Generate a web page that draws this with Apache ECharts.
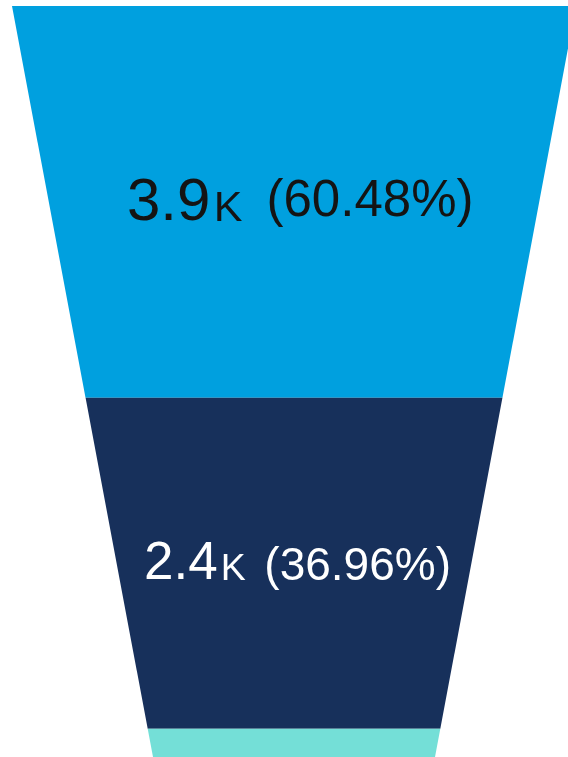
<!DOCTYPE html>
<html>
<head>
<meta charset="utf-8">
<script src="https://cdn.jsdelivr.net/npm/echarts@6/dist/echarts.min.js"></script>
<style>
html, body { margin: 0; padding: 0; background: #ffffff; }
#chart { width: 568px; height: 757px; }
</style>
</head>
<body>
<div id="chart"></div>
<script>
// ---- data ----
const stages = ['Stage 1', 'Stage 2', 'Stage 3'];
const values = [3901, 2384, 165];

// ---- styles ----
const sliceColors = ['#00A0DF', '#17305B', '#74DFD7'];
const labelColors = ['#141414', '#ffffff', '#141414'];
const labelShow = [true, true, false];
const valueFont = [60, 53, 0];
const unitFont = [43, 37.5, 0];
const pctFont = [51, 46, 0];
const unitPadL = [3.5, 3.1, 0];
const pctGap = [24, 18.5, 0];
const pctRaise = [5, 0, 0];
const labelDx = [6.2, 3.5, 0];
const labelDy = [1.5, 1.5, 0];
const FONT = "'Liberation Sans', Arial, sans-serif";
const MID_RATIO = 0.3465;           // canvas 'middle' baseline above alphabetic, in em
const NECK = 0.5;                   // bottom width / top width of funnel outline

// layout of the funnel outline (pixels)
const GRID_LEFT = 12, TOP_HALF_PX = 282, CANVAS_W = 568;

const total = values.reduce((a, b) => a + b, 0);
const kk = (1 - NECK) / 2;
const fullArea = 1 - kk;
// slice area proportional to value: depth t where cumulative area fraction = f
function depthAt(f) {
  const A = f * fullArea;
  return (1 - Math.sqrt(Math.max(0, 1 - 4 * kk * A))) / (2 * kk);
}
function halfWidth(t) { return 1 - 2 * kk * t; }

const seriesData = [];
let cum = 0;
values.forEach((v, i) => {
  const t0 = depthAt(cum / total);
  cum += v;
  const t1 = depthAt(cum / total);
  seriesData.push({ name: stages[i], value: [i, t0, t1, v] });
});

function renderItem(params, api) {
  const i = api.value(0);
  const t0 = api.value(1), t1 = api.value(2), v = api.value(3);
  const h0 = halfWidth(t0), h1 = halfWidth(t1);
  const pts = [
    api.coord([-h0, t0]), api.coord([h0, t0]),
    api.coord([h1, t1]), api.coord([-h1, t1])
  ];
  const children = [{
    type: 'polygon',
    shape: { points: pts },
    style: { fill: sliceColors[i], stroke: null }
  }];
  if (labelShow[i]) {
    const mid = api.coord([0, (t0 + t1) / 2]);
    const col = labelColors[i];
    const fa = valueFont[i], fk = unitFont[i], fb = pctFont[i];
    const valTxt = (v / 1000).toFixed(1);
    const pctTxt = '(' + (v / total * 100).toFixed(2) + '%)';
    // shift (down, px) so a token's baseline meets the value's baseline
    const dK = MID_RATIO * (fa - fk);
    const dB = MID_RATIO * (fa - fb) - pctRaise[i];
    children.push({
      type: 'text',
      x: mid[0] + labelDx[i],
      y: mid[1] + labelDy[i],
      style: {
        text: '{a|' + valTxt + '}{k|K}{b|' + pctTxt + '}',
        align: 'center',
        verticalAlign: 'middle',
        fill: col,
        rich: {
          a: { fontFamily: FONT, fontSize: fa, lineHeight: fa, fill: col, verticalAlign: 'middle' },
          k: { fontFamily: FONT, fontSize: fk, lineHeight: 10, fill: col, verticalAlign: 'middle',
               padding: [Math.max(0, 2 * dK), 0, Math.max(0, -2 * dK), unitPadL[i]] },
          b: { fontFamily: FONT, fontSize: fb, lineHeight: 10, fill: col, verticalAlign: 'middle',
               padding: [Math.max(0, 2 * dB), 0, Math.max(0, -2 * dB), pctGap[i]] }
        }
      }
    });
  }
  return { type: 'group', children: children };
}

const chart = echarts.init(document.getElementById('chart'), null, { renderer: 'canvas' });
chart.setOption({
  animation: false,
  backgroundColor: '#ffffff',
  grid: { left: GRID_LEFT, right: 0, top: 6, bottom: 0 },
  xAxis: { type: 'value', min: -1, max: (CANVAS_W - GRID_LEFT) / TOP_HALF_PX - 1, show: false },
  yAxis: { type: 'value', min: 0, max: 1, inverse: true, show: false },
  series: [{
    type: 'custom',
    renderItem: renderItem,
    clip: false,
    data: seriesData
  }]
});
</script>
</body>
</html>
